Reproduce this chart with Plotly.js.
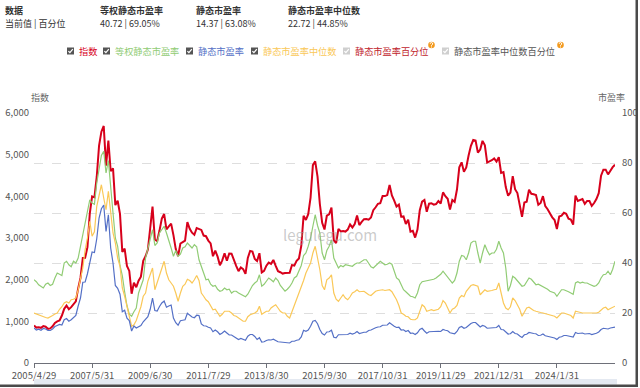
<!DOCTYPE html>
<html><head><meta charset="utf-8">
<script src="https://cdn.plot.ly/plotly-3.0.1.min.js"></script>
<style>html,body{margin:0;padding:0;background:#fff;}#c{width:640px;height:388px;}</style>
</head><body><div id="c"></div>
<script>
// monthly categories, 2005-04 .. 2026-02
const firstMonth = [2005, 4], lastMonth = [2026, 2];
const months = [];
for (let y = firstMonth[0]; y <= lastMonth[0]; y++) {
  for (let m = 1; m <= 12; m++) {
    if (y === firstMonth[0] && m < firstMonth[1]) continue;
    if (y === lastMonth[0] && m > lastMonth[1]) continue;
    months.push(y + '-' + String(m).padStart(2, '0'));
  }
}
const tickMonths = ['2005-04','2007-05','2009-06','2011-07','2013-08','2015-09','2017-10','2019-11','2021-12','2024-01'];
const tickLabels = ['2005/4/29','2007/5/31','2009/6/30','2011/7/29','2013/8/30','2015/9/30','2017/10/31','2019/11/29','2021/12/31','2024/1/31'];

// 指数 (left axis)
const indexValues = [
 900,850,860,845,885,870,820,830,880,
 960,1000,1020,1140,1300,1380,1290,1340,1420,1480,1790,2041,
 2522,2523,2781,3584,3998,3975,4471,5219,5552,5688,4737,5338,
 4602,4674,3790,3893,3578,2667,2743,2327,2210,1663,1928,1817,
 1976,2073,2450,2563,2723,3167,3753,2963,2926,3178,3464,3575,
 3205,3281,3345,3068,2735,2564,2868,2903,2936,3382,3223,3128,
 3077,3239,3222,3194,3059,3044,2938,2872,2563,2696,2553,2346,
 2464,2634,2455,2626,2623,2462,2333,2205,2293,2254,2140,2523,
 2687,2673,2495,2449,2636,2174,2211,2336,2410,2379,2474,2331,
 2202,2178,2146,2158,2157,2165,2350,2338,2451,2508,2809,3533,
 3434,3572,3971,4749,4841,4473,3816,3366,3203,3534,3566,3731,
 2946,2877,3218,3156,3169,3154,3203,3327,3253,3336,3538,3310,
 3387,3452,3456,3439,3492,3666,3737,3822,3837,4006,4006,4030,
 4275,4023,3898,3756,3802,3510,3517,3334,3438,3153,3172,3010,
 3201,3669,3872,3913,3629,3825,3835,3799,3814,3886,3828,4096,
 4003,3940,3686,3912,3867,4163,4695,4816,4587,4695,4981,5211,
 5351,5336,5048,5123,5331,5224,4811,4831,4866,4908,4832,4940,
 4563,4581,4222,4016,4091,4485,4170,4078,3804,3508,3853,3872,
 4157,4061,4051,4030,3798,3842,4004,3765,3690,3573,3496,3431,
 3216,3516,3537,3604,3580,3462,3442,3322,4017,3891,3917,3935,
 3817,3890,3888,3770,3840,3936,4076,4497,4640,4640,4526,4630,
 4700,4760];

// 等权静态市盈率 (right axis)
const eqWeightPE = [
 33.3,32.5,31.3,30.8,30.0,31.5,32.0,31.0,31.5,
 34.0,36.0,35.5,35.0,40.0,40.7,39.3,38.5,40.7,40.0,42.0,46.7,
 50.0,55.3,60.0,65.3,64.0,63.5,72.0,78.0,83.0,84.7,76.0,81.0,
 69.0,60.0,50.0,46.7,39.0,35.0,28.5,23.0,19.5,18.7,20.5,22.0,
 28.0,30.5,33.3,42.0,46.0,49.3,53.3,47.0,48.0,52.0,53.5,54.7,
 52.0,49.3,46.0,42.7,45.0,42.7,43.5,46.0,46.5,48.0,47.0,46.0,
 47.3,46.5,41.3,39.0,36.0,33.3,33.5,31.5,30.7,31.0,29.5,28.7,
 29.0,30.0,29.3,29.5,28.0,28.7,28.7,28.0,27.5,26.7,26.5,27.5,
 29.3,31.0,32.0,32.7,35.3,30.7,31.5,33.0,34.0,33.3,32.5,34.0,
 33.0,31.0,30.0,28.7,29.5,30.5,32.0,34.0,34.7,37.3,39.0,43.0,
 44.0,46.7,50.0,54.7,59.3,55.0,52.0,44.0,41.3,45.0,46.7,49.3,
 42.0,40.0,38.0,39.0,38.5,39.3,39.0,38.7,38.7,39.5,40.0,40.0,
 40.5,41.3,41.3,40.0,38.5,38.0,39.0,40.0,40.7,40.0,39.3,39.5,
 40.0,39.5,37.0,34.0,33.3,31.0,29.3,28.5,27.5,26.7,26.5,26.0,
 28.0,31.3,32.5,32.7,32.7,33.0,33.3,33.5,34.0,34.7,35.5,36.7,
 35.5,34.0,33.0,32.0,33.0,36.0,40.7,43.0,42.7,41.3,44.0,48.0,
 48.7,48.7,44.0,40.0,44.0,47.3,45.0,43.3,44.0,44.0,45.5,48.7,
 46.0,44.0,38.0,28.7,31.0,34.7,34.0,33.0,32.0,30.7,31.0,32.5,
 34.0,33.5,32.5,31.3,31.5,31.0,30.7,30.0,29.5,28.7,28.5,28.0,
 26.7,28.0,29.3,29.3,29.0,28.5,28.0,27.5,32.0,32.5,32.0,32.3,
 32.0,32.0,31.5,31.0,30.7,31.0,32.0,34.0,35.3,35.5,36.7,35.3,
 37.5,40.72];

// 静态市盈率 (right axis)
const staticPE = [
 14.0,13.2,13.5,13.1,13.8,13.6,13.0,13.0,13.6,
 14.6,15.0,15.4,15.2,17.3,17.8,16.7,17.3,18.3,19.0,22.8,26.0,
 32.3,32.4,35.7,40.5,44.4,44.2,49.7,58.0,61.7,63.2,52.6,59.3,
 46.0,40.0,31.0,29.9,27.5,20.5,21.1,17.9,17.0,12.8,14.8,14.0,
 14.5,15.0,16.5,17.5,18.5,21.5,26.0,21.0,20.8,22.6,24.0,24.8,
 22.3,22.8,23.2,18.0,16.1,15.1,16.9,17.1,17.3,19.9,19.0,18.4,
 18.1,19.1,19.0,15.6,14.9,14.8,14.3,14.0,12.5,13.2,12.5,11.4,
 12.0,12.8,12.0,11.2,11.2,10.5,9.9,9.4,9.8,9.6,9.1,10.7,
 11.4,11.4,10.6,9.4,10.1,8.4,8.5,9.0,9.3,9.2,9.5,9.0,
 8.5,8.4,8.3,8.0,8.0,8.0,8.7,8.7,9.1,9.3,10.4,13.1,
 12.7,13.2,14.7,16.7,17.0,15.7,13.4,11.8,11.2,12.4,12.5,13.1,
 10.3,10.1,11.3,11.3,11.3,11.3,11.4,11.9,11.6,11.9,12.6,11.8,
 12.1,12.3,12.3,13.0,13.2,13.8,14.1,14.4,14.5,15.1,15.1,15.2,
 16.1,15.2,14.7,14.2,14.3,13.2,13.3,12.6,13.0,11.9,12.0,11.4,
 12.1,13.4,13.9,12.8,11.9,12.5,12.6,12.5,12.5,12.7,12.6,13.4,
 13.1,12.9,12.1,11.9,11.7,12.6,14.2,14.6,13.9,14.2,15.1,15.8,
 16.2,16.2,15.3,14.4,15.0,14.7,13.9,14.0,14.2,14.3,14.2,15.0,
 13.4,13.3,12.4,11.6,11.7,12.6,11.8,11.6,10.8,10.2,11.3,11.5,
 12.2,11.9,11.8,11.7,11.0,11.1,11.6,10.9,10.7,10.4,10.2,10.0,
 9.4,10.3,10.5,11.0,11.0,10.7,10.7,10.4,12.2,11.8,11.9,12.0,
 11.6,11.8,11.8,11.4,11.6,11.9,12.4,13.4,13.9,13.9,13.6,14.0,
 14.2,14.37];

// 静态市盈率中位数 (right axis)
const medianPE = [
 20.0,19.6,19.3,18.9,18.6,18.2,18.0,18.4,19.0,
 19.6,20.0,21.5,22.5,24.0,24.5,24.0,25.3,25.5,26.0,29.3,33.3,
 38.0,45.3,50.0,56.7,50.7,52.5,62.7,67.0,71.3,66.0,61.3,68.7,
 60.0,52.0,48.0,42.0,38.7,30.0,26.7,22.0,18.7,14.7,15.3,17.0,
 20.0,22.5,26.7,28.0,32.7,35.5,38.0,29.3,32.0,35.3,38.0,40.7,
 36.0,33.3,32.0,30.7,28.0,24.7,28.0,30.7,31.5,33.5,33.0,32.0,
 33.3,35.0,33.0,28.0,26.7,25.3,24.5,23.0,21.3,21.5,20.0,18.7,
 19.5,20.7,20.7,20.7,20.0,19.0,18.7,18.0,17.3,16.7,16.7,18.5,
 19.3,19.5,20.0,20.7,22.7,19.5,20.0,20.7,20.7,22.0,22.7,23.3,
 22.0,20.7,20.0,20.0,18.7,18.0,20.5,23.0,25.0,27.5,30.0,33.0,
 36.0,38.0,40.0,44.0,46.7,42.0,37.3,31.0,29.3,33.3,34.0,35.3,
 28.0,25.5,24.7,26.0,27.3,26.0,25.3,26.5,28.0,28.5,29.3,28.5,
 28.5,28.7,28.0,27.3,27.0,28.0,28.7,29.0,29.3,29.3,29.0,29.3,
 29.3,28.5,27.0,25.3,23.0,20.0,19.5,18.7,18.5,17.5,17.3,17.3,
 18.0,21.0,23.3,22.5,20.7,21.0,21.3,21.0,21.3,21.5,22.5,25.0,
 24.0,22.0,20.0,21.5,22.0,23.0,26.0,27.0,26.5,28.7,30.0,31.0,
 31.3,31.0,30.7,27.3,28.5,29.3,28.7,28.7,29.0,29.3,29.5,32.0,
 28.0,24.0,22.0,21.3,22.5,26.0,25.0,23.3,21.5,18.7,20.5,22.0,
 22.3,21.5,21.0,20.7,20.3,20.2,20.0,19.8,19.5,19.3,19.0,18.7,
 18.0,19.0,20.0,20.0,19.6,19.3,19.0,18.0,20.7,20.5,20.2,20.0,
 20.0,20.0,20.0,19.8,20.0,20.0,20.3,21.0,22.0,22.3,21.3,21.8,
 22.2,22.72];

const headerItems = [
  ['数据', '当前值 | 百分位'],
  ['等权静态市盈率', '40.72 | 69.05%'],
  ['静态市盈率', '14.37 | 63.08%'],
  ['静态市盈率中位数', '22.72 | 44.85%']
];
const legendItems = [
  {name: '指数', color: '#d7001b', on: true},
  {name: '等权静态市盈率', color: '#91cc75', on: true},
  {name: '静态市盈率', color: '#5470c6', on: true},
  {name: '静态市盈率中位数', color: '#fac858', on: true},
  {name: '静态市盈率百分位', color: '#c0232c', on: false},
  {name: '静态市盈率中位数百分位', color: '#555555', on: false}
];

// ---- layout helpers (pixel -> paper) ----
const L = 34, R = 615, T = 113, B = 363;
const PX = x => (x - L) / (R - L);
const PY = y => (B - y) / (B - T);
const FONT = '"Noto Sans CJK SC", "Noto Sans", sans-serif';

const annotations = [];
const shapes = [];
function txt(text, x, y, size, color, anchor, pad) {
  annotations.push({text: text, x: PX(x), y: PY(y), xref: 'paper', yref: 'paper',
    xanchor: anchor || 'left', yanchor: 'middle', showarrow: false, borderpad: pad === undefined ? 0 : pad,
    font: {family: FONT, size: size, color: color}});
}
// header
const headerX = [4, 99, 195, 287];
headerItems.forEach((h, i) => {
  txt('<b>' + h[0] + '</b>', headerX[i], 10, 9, '#333');
  txt(h[1], headerX[i], 24, 9, '#333');
});
// legend row
const legendX = [67, 103, 186, 251, 343, 442];
legendItems.forEach((it, i) => {
  const x0 = legendX[i], y0 = 47.5, s = 7;
  shapes.push({type: 'rect', xref: 'paper', yref: 'paper', x0: PX(x0), x1: PX(x0 + s), y0: PY(y0), y1: PY(y0 + s),
    fillcolor: it.on ? '#555555' : '#cfcfcf', line: {width: 0}});
  shapes.push({type: 'path', xref: 'paper', yref: 'paper',
    path: 'M ' + PX(x0 + 1.4) + ' ' + PY(y0 + 3.6) + ' L ' + PX(x0 + 2.9) + ' ' + PY(y0 + 5.2) + ' L ' + PX(x0 + 5.8) + ' ' + PY(y0 + 1.6),
    line: {color: '#ffffff', width: 1.2}});
  txt(it.name, x0 + 11, 51, 9.2, it.color);
});
// help icons (drawn as shapes only, no text box)
[[431.5, 45], [560.5, 45]].forEach(p => {
  shapes.push({type: 'circle', xref: 'paper', yref: 'paper', x0: PX(p[0] - 3.3), x1: PX(p[0] + 3.3), y0: PY(p[1] - 3.3), y1: PY(p[1] + 3.3),
    fillcolor: '#f39a1e', line: {width: 0}});
  shapes.push({type: 'path', xref: 'paper', yref: 'paper',
    path: 'M ' + PX(p[0] - 1.3) + ' ' + PY(p[1] - 1.2) + ' Q ' + PX(p[0] - 1.2) + ' ' + PY(p[1] - 2.6) + ' ' + PX(p[0]) + ' ' + PY(p[1] - 2.5) +
          ' Q ' + PX(p[0] + 1.4) + ' ' + PY(p[1] - 2.3) + ' ' + PX(p[0] + 1.2) + ' ' + PY(p[1] - 1.0) +
          ' Q ' + PX(p[0] + 0.9) + ' ' + PY(p[1] - 0.2) + ' ' + PX(p[0]) + ' ' + PY(p[1] + 0.4) + ' L ' + PX(p[0]) + ' ' + PY(p[1] + 1.0),
    line: {color: '#ffffff', width: 1}});
  shapes.push({type: 'rect', xref: 'paper', yref: 'paper', x0: PX(p[0] - 0.5), x1: PX(p[0] + 0.5), y0: PY(p[1] + 1.6), y1: PY(p[1] + 2.5),
    fillcolor: '#ffffff', line: {width: 0}});
});
// axis titles + watermark
txt('指数', 40, 98, 9, '#666', 'center');
txt('市盈率', 611, 98, 9, '#666', 'center');
txt('legulegu.com', 330, 234, 15, 'rgba(160,160,160,0.55)', 'center');
// bottom slider strip and frame shadow
shapes.push({type: 'rect', xref: 'paper', yref: 'paper', x0: PX(34), x1: PX(617), y0: PY(379), y1: PY(384.5), fillcolor: '#e4e9f1', line: {width: 0}});
shapes.push({type: 'rect', xref: 'paper', yref: 'paper', x0: PX(0), x1: PX(638), y0: PY(384.5), y1: PY(387), fillcolor: '#4a4a4a', line: {width: 0}});
shapes.push({type: 'rect', xref: 'paper', yref: 'paper', x0: PX(635.5), x1: PX(638), y0: PY(0), y1: PY(387), fillcolor: '#4a4a4a', line: {width: 0}});

const traces = [
  {x: months, y: eqWeightPE, name: '等权静态市盈率', yaxis: 'y2', type: 'scatter', mode: 'lines', line: {color: '#91cc75', width: 1.2}},
  {x: months, y: medianPE, name: '静态市盈率中位数', yaxis: 'y2', type: 'scatter', mode: 'lines', line: {color: '#fac858', width: 1.2}},
  {x: months, y: staticPE, name: '静态市盈率', yaxis: 'y2', type: 'scatter', mode: 'lines', line: {color: '#5470c6', width: 1.2}},
  {x: months, y: indexValues, name: '指数', yaxis: 'y', type: 'scatter', mode: 'lines', line: {color: '#d7001b', width: 2}}
];

const layout = {
  width: 640, height: 388,
  margin: {l: L, r: 640 - R, t: T, b: 388 - B, pad: 0},
  paper_bgcolor: '#ffffff', plot_bgcolor: '#ffffff',
  showlegend: false, hovermode: false,
  font: {family: FONT, size: 9.5, color: '#666'},
  xaxis: {type: 'category', categoryorder: 'array', categoryarray: months, range: [0, months.length - 1],
    tickmode: 'array', tickvals: tickMonths, ticktext: tickLabels, showgrid: false, zeroline: false,
    showline: true, linecolor: '#6e7079', linewidth: 1, ticks: 'outside', ticklen: 4, tickcolor: '#6e7079',
    tickfont: {family: FONT, size: 9.5, color: '#555'}},
  yaxis: {range: [0, 6000], tickmode: 'array', tickvals: [0, 1000, 2000, 3000, 4000, 5000, 6000], tickformat: ',d',
    showgrid: false, zeroline: false, showline: false, ticks: '', ticklabelstandoff: 4,
    tickfont: {family: FONT, size: 9.5, color: '#555'}},
  yaxis2: {range: [0, 100], overlaying: 'y', side: 'right', tickmode: 'array', tickvals: [0, 20, 40, 60, 80, 100],
    showgrid: true, gridcolor: '#dedede', griddash: 'dash', gridwidth: 1, zeroline: false, showline: false, ticks: '',
    ticklabelstandoff: 6, tickfont: {family: FONT, size: 9.5, color: '#555'}},
  annotations: annotations, shapes: shapes
};
Plotly.newPlot('c', traces, layout, {displayModeBar: false, staticPlot: true});
</script></body></html>
